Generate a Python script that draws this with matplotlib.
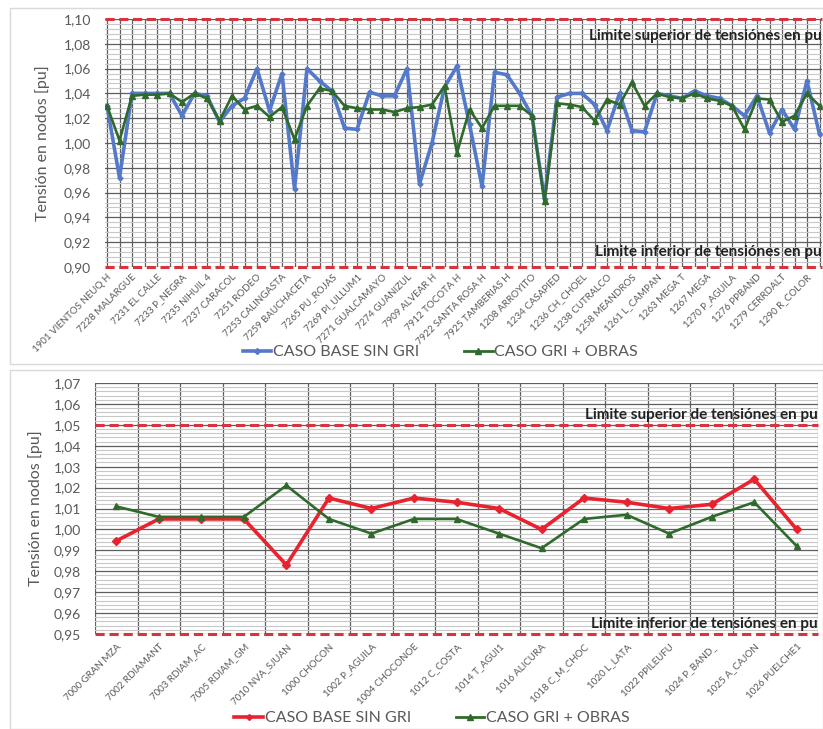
import matplotlib
matplotlib.use("Agg")
import matplotlib.pyplot as plt
from matplotlib.ticker import MultipleLocator, FuncFormatter
from matplotlib.patches import Rectangle
from matplotlib.lines import Line2D

plt.rcParams['font.family'] = ['Lato', 'DejaVu Sans']

# ---------------- data: upper chart (Cuyo / Comahue nodes) ----------------
top_labels = [
    "1901 VIENTOS NEUQ H", "7228 MALARGUE", "7231 EL CALLE", "7233 P_NEGRA",
    "7235 NIHUIL 4", "7237 CARACOL", "7251 RODEO", "7253 CALINGASTA",
    "7259 BAUCHACETA", "7265 PU_ROJAS", "7269 PI_ULLUM1", "7271 GUALCAMAYO",
    "7274 GUANIZUL", "7909 ALVEAR H", "7912 TOCOTA H", "7922 SANTA ROSA H",
    "7925 TAMBERIAS H", "1208 ARROYITO", "1234 CASAPIED", "1236 CH_CHOEL",
    "1238 CUTRALCO", "1258 MEANDROS", "1261 L_CAMPAN", "1263 MEGA T",
    "1267 MEGA", "1270 P_AGUILA", "1276 PPBAND", "1279 CERRDALT",
    "1290 R_COLOR",
]

top_base = [
    1.030, 0.972, 1.040, 1.040, 1.040, 1.040, 1.022, 1.040, 1.038, 1.017,
    1.030, 1.036, 1.060, 1.026, 1.056, 0.963, 1.060, 1.050, 1.042, 1.012,
    1.011, 1.041, 1.038, 1.038, 1.060, 0.967, 1.000, 1.045, 1.062, 1.015,
    0.965, 1.057, 1.055, 1.040, 1.022, 0.955, 1.037, 1.040, 1.040, 1.031,
    1.010, 1.040, 1.010, 1.009, 1.040, 1.038, 1.036, 1.042, 1.038, 1.036,
    1.030, 1.022, 1.038, 1.008, 1.027, 1.011, 1.050, 1.007,
]

top_gri = [
    1.030, 1.002, 1.038, 1.039, 1.039, 1.040, 1.033, 1.040, 1.036, 1.018,
    1.038, 1.027, 1.030, 1.021, 1.029, 1.003, 1.030, 1.044, 1.042, 1.030,
    1.028, 1.027, 1.027, 1.025, 1.028, 1.029, 1.031, 1.046, 0.992, 1.027,
    1.012, 1.030, 1.030, 1.030, 1.022, 0.953, 1.032, 1.031, 1.029, 1.018,
    1.035, 1.031, 1.049, 1.030, 1.040, 1.037, 1.036, 1.040, 1.036, 1.034,
    1.030, 1.011, 1.036, 1.035, 1.017, 1.022, 1.040, 1.030,
]

top_lim_sup = 1.10
top_lim_inf = 0.90

# ---------------- data: lower chart (Comahue 500 kV nodes) ----------------
bot_labels = [
    "7000 GRAN MZA", "7002 RDIAMANT", "7003 RDIAM_AC", "7005 RDIAM_GM",
    "7010 NVA_SJUAN", "1000 CHOCON", "1002 P_AGUILA", "1004 CHOCONOE",
    "1012 C_COSTA", "1014 T_AGUI1", "1016 ALICURA", "1018 C_M_CHOC",
    "1020 L_LATA", "1022 PPILEUFU", "1024 P_BAND_", "1025 A_CAJON",
    "1026 PUELCHE1",
]

bot_base = [0.9945, 1.005, 1.005, 1.005, 0.983, 1.015, 1.010, 1.015, 1.013,
            1.010, 1.000, 1.015, 1.013, 1.010, 1.012, 1.024, 1.000]
bot_gri = [1.011, 1.006, 1.006, 1.006, 1.021, 1.005, 0.998, 1.005, 1.005,
           0.998, 0.991, 1.005, 1.007, 0.998, 1.006, 1.013, 0.992]

bot_lim_sup = 1.05
bot_lim_inf = 0.95

# ---------------- styles ----------------
BLUE = "#5479C9"
GREEN = "#2F6A2C"
RED = "#E8222E"
LIMIT = "#D8343F"
GRID_MAJOR = "#5E5E5E"
GRID_MINOR = "#C8C8C8"
TICK = "#595959"
LIMIT_TEXT = "#222222"

comma = FuncFormatter(lambda v, p: f"{v:.2f}".replace(".", ","))

fig = plt.figure(figsize=(8.23, 7.29), dpi=100)

# chart-area frames
for (x0, y0, x1, y1) in [(10, 8, 823, 364), (10, 370, 823, 729)]:
    fig.patches.append(Rectangle((x0 / 823, 1 - y1 / 729), (x1 - x0) / 823,
                                 (y1 - y0) / 729, transform=fig.transFigure,
                                 fill=False, edgecolor="#D9D9D9", lw=1.0))


def style_axes(ax):
    for s in ax.spines.values():
        s.set_visible(False)
    ax.tick_params(axis="both", length=0, colors=TICK)
    ax.grid(which="major", axis="y", color=GRID_MAJOR, lw=0.9)
    ax.grid(which="minor", axis="y", color=GRID_MINOR, lw=0.8)
    ax.set_axisbelow(True)


# ---------------- upper chart ----------------
ax1 = fig.add_axes([105 / 823, 1 - 267 / 729, 717 / 823, 248 / 729])
style_axes(ax1)
n_top = len(top_base)
x_top = list(range(n_top))
for xv in x_top:
    ax1.axvline(xv, color=GRID_MAJOR, lw=0.9, zorder=0.5)
ax1.set_xlim(-0.16, n_top - 1 + 0.2)
ax1.set_ylim(0.90, 1.10)
ax1.yaxis.set_major_locator(MultipleLocator(0.02))
ax1.yaxis.set_minor_locator(MultipleLocator(0.004))
ax1.yaxis.set_major_formatter(comma)
ax1.tick_params(axis="y", which="major", labelsize=10, pad=10)
ax1.tick_params(axis="y", which="minor", length=0)
ax1.set_xticks(x_top[::2])
ax1.set_xticklabels(top_labels, rotation=45, ha="right", rotation_mode="anchor",
                    fontsize=7)
ax1.tick_params(axis="x", pad=4)
ax1.set_ylabel("Tensión en nodos [pu]", fontsize=11.5, color=TICK, labelpad=10)

for lim in (top_lim_sup, top_lim_inf):
    ax1.axhline(lim, color=LIMIT, lw=2.2, dashes=(3, 1.5), zorder=3, clip_on=False)

ax1.plot(x_top, top_base, color=BLUE, lw=2.6, marker="D", ms=2.5, zorder=4)
ax1.plot(x_top, top_gri, color=GREEN, lw=1.9, marker="^", ms=4, zorder=5)

ax1.text(1.0, 1.0862, "Limite superior de tensiónes en pu", transform=ax1.get_yaxis_transform(),
         ha="right", va="center", fontsize=11, fontweight="bold", color=LIMIT_TEXT, zorder=6)
ax1.text(1.0, 0.9118, "Limite inferior de tensiónes en pu", transform=ax1.get_yaxis_transform(),
         ha="right", va="center", fontsize=11, fontweight="bold", color=LIMIT_TEXT, zorder=6)

leg1 = [Line2D([], [], color=BLUE, lw=2.6, marker="D", ms=3),
        Line2D([], [], color=GREEN, lw=2.0, marker="^", ms=5)]
fig.legend(leg1, ["CASO BASE SIN GRI", "CASO GRI + OBRAS"], loc="center",
           bbox_to_anchor=(0.535, 1 - 352 / 729), ncol=2, frameon=False,
           fontsize=11.5, handlelength=1.8, handletextpad=0.1, columnspacing=2.8,
           labelcolor=TICK)

# ---------------- lower chart ----------------
ax2 = fig.add_axes([95 / 823, 1 - 634 / 729, 723 / 823, 251 / 729])
style_axes(ax2)
n_bot = len(bot_base)
x_bot = list(range(n_bot))
for k in range(n_bot + 1):
    ax2.axvline(k - 0.5, color=GRID_MAJOR, lw=0.9, zorder=0.5)
ax2.set_xlim(-0.5, n_bot - 0.5)
ax2.set_ylim(0.95, 1.07)
ax2.yaxis.set_major_locator(MultipleLocator(0.01))
ax2.yaxis.set_minor_locator(MultipleLocator(0.002))
ax2.yaxis.set_major_formatter(comma)
ax2.tick_params(axis="y", which="major", labelsize=10, pad=10)
ax2.tick_params(axis="y", which="minor", length=0)
ax2.set_xticks(x_bot)
ax2.set_xticklabels(bot_labels, rotation=45, ha="right", rotation_mode="anchor",
                    fontsize=7)
ax2.tick_params(axis="x", pad=6)
ax2.set_ylabel("Tensión en nodos [pu]", fontsize=11.5, color=TICK, labelpad=8)

for lim in (bot_lim_sup, bot_lim_inf):
    ax2.axhline(lim, color=LIMIT, lw=2.2, dashes=(3, 1.6), zorder=3, clip_on=False)

ax2.plot(x_bot, bot_base, color=RED, lw=2.6, marker="D", ms=4, zorder=4)
ax2.plot(x_bot, bot_gri, color=GREEN, lw=1.9, marker="^", ms=5, zorder=5)

ax2.text(1.0, 1.0548, "Limite superior de tensiónes en pu", transform=ax2.get_yaxis_transform(),
         ha="right", va="center", fontsize=11, fontweight="bold", color=LIMIT_TEXT, zorder=6)
ax2.text(1.0, 0.9548, "Limite inferior de tensiónes en pu", transform=ax2.get_yaxis_transform(),
         ha="right", va="center", fontsize=11, fontweight="bold", color=LIMIT_TEXT, zorder=6)

leg2 = [Line2D([], [], color=RED, lw=2.6, marker="D", ms=3),
        Line2D([], [], color=GREEN, lw=2.0, marker="^", ms=5)]
fig.legend(leg2, ["CASO BASE SIN GRI", "CASO GRI + OBRAS"], loc="center",
           bbox_to_anchor=(0.525, 1 - 718 / 729), ncol=2, frameon=False,
           fontsize=11.5, handlelength=1.8, handletextpad=0.1, columnspacing=2.8,
           labelcolor=TICK)

fig.savefig("out.png", dpi=100)
